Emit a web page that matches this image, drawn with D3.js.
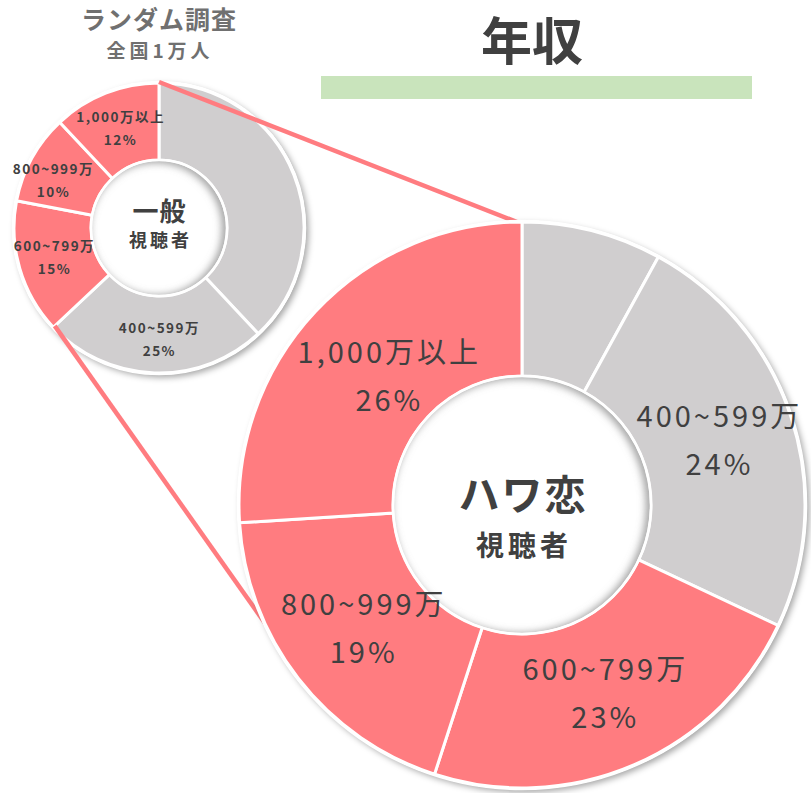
<!DOCTYPE html>
<html>
<head>
<meta charset="utf-8">
<script src="https://cdn.jsdelivr.net/npm/d3@7"></script>
<style>
  body { margin: 0; background: #fff; }
  svg { display: block; font-family: "Noto Sans CJK JP", "Noto Sans", sans-serif; }
</style>
</head>
<body>
<div id="chart"></div>
<script>
// *** DATA ***
const categories = ["その他", "400~599万", "600~799万", "800~999万", "1,000万以上"];
const generalValues = [38, 25, 15, 10, 12];   // 一般視聴者 (ランダム調査 全国1万人)
const hawakoiValues = [8, 24, 23, 19, 26];    // ハワ恋視聴者
const showLabel = [false, true, true, true, true];

// *** SETTINGS ***
let width = 811, height = 793
let colors = {pink: "#FF7C80", gray: "#D0CECF", text: "#404040", sub: "#707070", bar: "#C9E4BC"}
let catColor = d3.scaleOrdinal().domain(categories)
  .range([colors.gray, colors.gray, colors.pink, colors.pink, colors.pink])

let small = {cx: 159, cy: 228, r0: 68, r1: 145}
let big = {cx: 522, cy: 505, r0: 129, r1: 283}

let svg = d3.select("#chart").append("svg")
  .attr("width", width)
  .attr("height", height)

//Filters
let defs = svg.append("defs")
defs.append("filter").attr("id", "drop")
  .attr("x", "-20%").attr("y", "-20%").attr("width", "140%").attr("height", "140%")
  .append("feDropShadow")
    .attr("dx", 3).attr("dy", 3).attr("stdDeviation", 3)
    .attr("flood-color", "#000").attr("flood-opacity", 0.35)
defs.append("filter").attr("id", "blur")
  .attr("x", "-20%").attr("y", "-20%").attr("width", "140%").attr("height", "140%")
  .append("feGaussianBlur").attr("stdDeviation", 4)

let pie = d3.pie().sort(null).value(d => d.value)

function drawDonut(g, values, geo, id) {
  let data = pie(categories.map((c, i) => ({cat: c, value: values[i], show: showLabel[i]})))
  let arc = d3.arc().innerRadius(geo.r0).outerRadius(geo.r1)

  let ring = g.append("g").attr("filter", "url(#drop)")
  ring.selectAll("path")
    .data(data)
    .enter()
    .append("path")
      .attr("d", arc)
      .attr("fill", d => catColor(d.data.cat))
      .attr("stroke", "white")
      .attr("stroke-width", 3)

  //outer white rim
  g.append("circle").attr("r", geo.r1 + 1).attr("fill", "none")
    .attr("stroke", "white").attr("stroke-width", 2.5)

  //inner circle with inset shadow
  defs.append("clipPath").attr("id", "clip_" + id)
    .append("circle").attr("r", geo.r0 - 1)
  g.append("circle").attr("r", geo.r0 - 1).attr("fill", "white")
  g.append("g").attr("clip-path", "url(#clip_" + id + ")")
    .append("circle")
      .attr("cx", -3).attr("cy", 1)
      .attr("r", geo.r0 + 3)
      .attr("fill", "none")
      .attr("stroke", "#8a8a8a")
      .attr("stroke-width", 8)
      .attr("filter", "url(#blur)")
  g.append("circle").attr("r", geo.r0).attr("fill", "none")
    .attr("stroke", "white").attr("stroke-width", 2.5)

  return {data: data, arc: arc}
}

//Connector points
function pt(geo, angle, r) {
  return [geo.cx + r * Math.sin(angle), geo.cy - r * Math.cos(angle)]
}

//Small donut
let gSmall = svg.append("g").attr("transform", `translate(${small.cx},${small.cy})`)
let sm = drawDonut(gSmall, generalValues, small, "small")

//Connector lines (over small, under big)
let redStart = sm.data[2].startAngle
let lines = [
  [pt(small, 0, small.r1 + 1), pt(big, 0, big.r1 - 2)],
  [pt(small, redStart, small.r1 - 2), pt(big, Math.PI * 1.3, big.r1 - 5)]
]
svg.append("g").selectAll("line")
  .data(lines)
  .enter()
  .append("line")
    .attr("x1", d => d[0][0]).attr("y1", d => d[0][1])
    .attr("x2", d => d[1][0]).attr("y2", d => d[1][1])
    .attr("stroke", colors.pink)
    .attr("stroke-width", 4.5)

//Big donut
let gBig = svg.append("g").attr("transform", `translate(${big.cx},${big.cy})`)
let bg = drawDonut(gBig, hawakoiValues, big, "big")

//Labels
function addLabels(g, res, size, weight, gap, spacing, off) {
  let lab = g.append("g").selectAll("g")
    .data(res.data.filter(d => d.data.show))
    .enter()
    .append("g")
      .attr("transform", d => {
        let c = res.arc.centroid(d)
        let o = off[d.data.cat] || [0, 0]
        return `translate(${c[0] + o[0] + spacing / 2},${c[1] + o[1]})`
      })
      .style("fill", colors.text)
      .style("font-size", size + "px")
      .style("font-weight", weight)
      .style("letter-spacing", spacing + "px")
      .attr("text-anchor", "middle")
  lab.append("text").attr("y", -gap / 2 + size * 0.35).text(d => d.data.cat)
  lab.append("text").attr("y", gap / 2 + size * 0.35).text(d => d.data.value + "%")
}
addLabels(gSmall, sm, 13.5, 700, 23, 1.5, {"800~999万": [-13, 4], "400~599万": [3, 5], "600~799万": [-3, 0]})
addLabels(gBig, bg, 29, 400, 48, 3, {"1,000万以上": [16, 13], "800~999万": [3, -2]})

//Center texts
function centerText(g, y, size, spacing, txt) {
  g.append("text").attr("text-anchor", "middle").attr("x", spacing / 2).attr("y", y)
    .style("font-size", size + "px").style("font-weight", 700)
    .style("letter-spacing", spacing + "px")
    .style("fill", colors.text).text(txt)
}
centerText(gSmall, -7, 26, 1, "一般")
centerText(gSmall, 19, 18, 3, "視聴者")
centerText(gBig, 5, 41, 2, "ハワ恋")
centerText(gBig, 51, 28, 4, "視聴者")

//Header
svg.append("text").attr("x", 159).attr("y", 29).attr("text-anchor", "middle")
  .style("font-size", "25px").style("font-weight", 700).style("letter-spacing", "1px")
  .style("fill", colors.sub).text("ランダム調査")
svg.append("text").attr("x", 160).attr("y", 58).attr("text-anchor", "middle")
  .style("font-size", "19px").style("font-weight", 700).style("letter-spacing", "4px")
  .style("fill", colors.sub).text("全国1万人")

svg.append("text").attr("x", 532).attr("y", 60).attr("text-anchor", "middle")
  .style("font-size", "51px").style("font-weight", 700).style("fill", colors.text).text("年収")
svg.append("rect").attr("x", 321).attr("y", 76).attr("width", 431).attr("height", 23)
  .attr("fill", colors.bar)
</script>
</body>
</html>
